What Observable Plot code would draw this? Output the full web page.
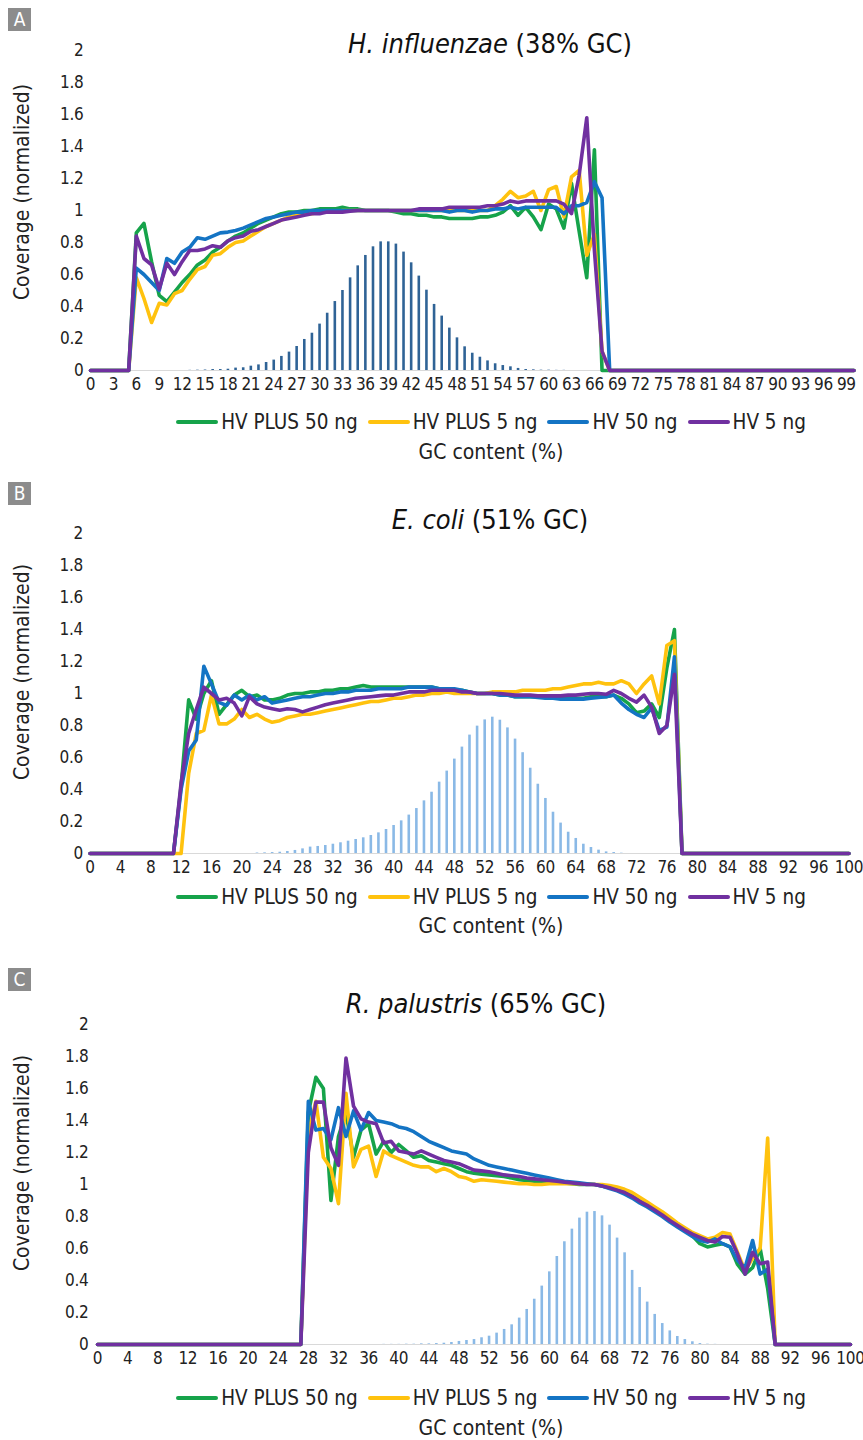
<!DOCTYPE html>
<html>
<head>
<meta charset="utf-8">
<script src="https://cdn.jsdelivr.net/npm/d3@7"></script>
<script src="https://cdn.jsdelivr.net/npm/@observablehq/plot@0.6"></script>
<style>
  html, body { margin: 0; padding: 0; background: #fff; }
  body { width: 863px; height: 1440px; position: relative; overflow: hidden;
         font-family: "Liberation Sans Narrow", "Arial Narrow", "DejaVu Sans Condensed", "Roboto Condensed", sans-serif; color: #222; }
  .plab { position: absolute; left: 8px; width: 23px; height: 23px; background: #8c8c8c; color: #fff;
          font-size: 19px; line-height: 23px; text-align: center; }
  .title { position: absolute; left: 0; font-size: 27px; line-height: 32px; white-space: nowrap; color: #111; }
  .ylab { position: absolute; left: 22px; transform: translate(-50%, -50%) rotate(-90deg); font-size: 21px; white-space: nowrap; color: #222; }
  .legend { position: absolute; left: 0; width: 982px; height: 26px; display: flex; justify-content: center; align-items: center; font-size: 20.5px; color: #222; }
  .legend .item { display: flex; align-items: center; margin: 0 5px; }
  .legend .sw { width: 42px; height: 4.5px; border-radius: 2px; margin-right: 3px; }
  .xlab { position: absolute; left: 0; width: 982px; text-align: center; font-size: 21px; line-height: 26px; color: #222; }
  svg { position: absolute; left: 0; }
</style>
</head>
<body>
<script>
// ---------------- data ----------------
const seriesNames = ["HV PLUS 50 ng", "HV PLUS 5 ng", "HV 50 ng", "HV 5 ng"];
const seriesColors = ["#16a34a", "#ffc20e", "#1474c4", "#7030a0"];
const yTickValues = [0, 0.2, 0.4, 0.6, 0.8, 1, 1.2, 1.4, 1.6, 1.8, 2];
const xTicksA = [0,3,6,9,12,15,18,21,24,27,30,33,36,39,42,45,48,51,54,57,60,63,66,69,72,75,78,81,84,87,90,93,96,99];
const xTicksBC = [0,4,8,12,16,20,24,28,32,36,40,44,48,52,56,60,64,68,72,76,80,84,88,92,96,100];
const titles = [
  {italic: "H. influenzae", rest: " (38% GC)"},
  {italic: "E. coli", rest: " (51% GC)"},
  {italic: "R. palustris", rest: " (65% GC)"}
];
const panelLetters = ["A", "B", "C"];
const xTitle = "GC content (%)";
const yTitle = "Coverage (normalized)";

// Panel A: H. influenzae, coverage by GC 0..100
const aGreen = [0,0,0,0,0,0,0.86,0.92,0.68,0.47,0.43,0.49,0.55,0.6,0.66,0.69,0.74,0.77,0.81,0.84,
  0.86,0.89,0.92,0.94,0.96,0.98,0.99,0.99,1.0,1.0,1.01,1.01,1.01,1.02,1.01,1.01,1.0,1.0,1.0,1.0,
  0.99,0.98,0.98,0.97,0.97,0.96,0.96,0.95,0.95,0.95,0.95,0.96,0.96,0.97,0.99,1.03,0.97,1.02,0.96,0.88,
  1.04,1.01,0.89,1.17,0.87,0.58,1.38,0,0,0,0,0,0,0,0,0,0,0,0,0,
  0,0,0,0,0,0,0,0,0,0,0,0,0,0,0,0,0,0,0,0,0];
const aYellow = [0,0,0,0,0,0,0.58,0.45,0.30,0.42,0.41,0.48,0.5,0.57,0.63,0.65,0.72,0.73,0.77,0.8,
  0.81,0.84,0.87,0.9,0.92,0.94,0.96,0.97,0.98,0.98,0.99,0.99,0.99,1.0,1.0,1.0,1.0,1.0,1.0,1.0,
  1.0,1.0,1.0,1.0,1.0,1.0,1.0,1.0,1.0,1.0,1.0,1.0,1.0,1.03,1.07,1.12,1.08,1.09,1.12,1.0,
  1.13,1.15,0.96,1.21,1.25,0.72,0.85,0.12,0,0,0,0,0,0,0,0,0,0,0,0,
  0,0,0,0,0,0,0,0,0,0,0,0,0,0,0,0,0,0,0,0,0];
const aBlue = [0,0,0,0,0,0,0.64,0.6,0.55,0.5,0.7,0.67,0.74,0.77,0.83,0.82,0.84,0.86,0.865,0.875,
  0.89,0.91,0.93,0.95,0.96,0.97,0.98,0.99,0.99,1.0,1.0,1.0,1.0,1.0,1.0,1.0,1.0,1.0,1.0,1.0,
  1.0,1.0,1.0,1.0,1.0,1.0,1.0,0.99,1.0,1.0,0.99,1.0,1.0,1.01,1.01,1.02,1.01,1.02,1.02,1.02,
  1.02,1.02,0.98,1.03,1.03,1.05,1.18,1.08,0,0,0,0,0,0,0,0,0,0,0,0,
  0,0,0,0,0,0,0,0,0,0,0,0,0,0,0,0,0,0,0,0,0];
const aPurple = [0,0,0,0,0,0,0.84,0.70,0.66,0.51,0.67,0.6,0.68,0.75,0.75,0.76,0.78,0.77,0.81,0.83,
  0.84,0.87,0.88,0.9,0.92,0.94,0.95,0.96,0.97,0.98,0.98,0.99,0.99,0.99,0.995,1.0,1.0,1.0,1.0,1.0,
  1.0,1.0,1.0,1.01,1.01,1.01,1.01,1.02,1.02,1.02,1.02,1.02,1.03,1.03,1.04,1.06,1.05,1.06,1.06,1.06,
  1.06,1.06,1.04,0.98,1.22,1.58,0.75,0.12,0,0,0,0,0,0,0,0,0,0,0,0,
  0,0,0,0,0,0,0,0,0,0,0,0,0,0,0,0,0,0,0,0,0];
const aBars = [0,0,0,0,0,0,0,0,0,0,0,0,0,0.001,0.002,0.003,0.006,0.006,0.008,0.015,
  0.017,0.027,0.035,0.05,0.065,0.088,0.115,0.15,0.194,0.233,0.29,0.358,0.431,0.5,0.579,0.654,0.719,0.773,0.804,0.804,
  0.79,0.74,0.673,0.59,0.502,0.413,0.34,0.265,0.204,0.148,0.108,0.083,0.06,0.042,0.031,0.023,0.013,0.006,0.004,0.002,
  0.002,0.001,0.001,0,0,0,0,0,0,0,0,0,0,0,0,0,0,0,0,0,
  0,0,0,0,0,0,0,0,0,0,0,0,0,0,0,0,0,0,0,0,0];

// Panel B: E. coli
const bGreen = [0,0,0,0,0,0,0,0,0,0,0,0,0.42,0.96,0.84,1.0,1.08,0.87,0.93,0.99,
  1.02,0.98,0.99,0.96,0.96,0.97,0.99,1.0,1.0,1.01,1.01,1.02,1.02,1.03,1.03,1.04,1.05,1.04,1.04,1.04,
  1.04,1.04,1.04,1.04,1.04,1.04,1.03,1.03,1.02,1.02,1.01,1.0,1.0,1.0,0.99,0.99,0.98,0.98,0.98,0.98,
  0.975,0.97,0.97,0.97,0.97,0.97,0.98,0.98,0.98,0.99,0.97,0.935,0.88,0.89,0.935,0.85,1.16,1.40,0,0,
  0,0,0,0,0,0,0,0,0,0,0,0,0,0,0,0,0,0,0,0,0];
const bYellow = [0,0,0,0,0,0,0,0,0,0,0,0,0,0.5,0.75,0.77,0.99,0.81,0.81,0.84,
  0.9,0.85,0.87,0.84,0.82,0.83,0.85,0.86,0.87,0.87,0.88,0.89,0.9,0.91,0.92,0.93,0.94,0.95,0.95,0.96,
  0.97,0.97,0.98,0.99,0.99,1.0,1.0,1.01,1.0,1.0,1.0,1.0,1.0,1.01,1.01,1.01,1.01,1.02,1.02,1.02,
  1.02,1.03,1.03,1.04,1.05,1.06,1.06,1.07,1.06,1.06,1.08,1.06,1.0,1.06,1.11,0.935,1.30,1.33,0,0,
  0,0,0,0,0,0,0,0,0,0,0,0,0,0,0,0,0,0,0,0,0];
const bBlue = [0,0,0,0,0,0,0,0,0,0,0,0,0.4,0.64,0.71,1.17,1.06,0.945,0.925,0.99,
  0.96,0.99,0.96,0.98,0.94,0.95,0.96,0.97,0.98,0.98,0.99,1.0,1.0,1.01,1.01,1.02,1.02,1.02,1.03,1.03,
  1.03,1.03,1.04,1.04,1.04,1.04,1.03,1.03,1.03,1.02,1.01,1.0,1.0,1.0,0.99,0.99,0.98,0.98,0.98,0.975,
  0.97,0.97,0.965,0.965,0.965,0.965,0.97,0.975,0.98,0.99,0.94,0.9,0.87,0.85,0.91,0.77,0.79,1.23,0,0,
  0,0,0,0,0,0,0,0,0,0,0,0,0,0,0,0,0,0,0,0,0];
const bPurple = [0,0,0,0,0,0,0,0,0,0,0,0,0.44,0.75,0.9,1.04,1.0,0.96,0.97,0.94,
  0.86,0.98,0.935,0.915,0.905,0.895,0.905,0.9,0.885,0.9,0.915,0.93,0.94,0.95,0.96,0.97,0.975,0.98,0.985,0.99,
  0.99,1.0,1.01,1.01,1.01,1.02,1.02,1.02,1.02,1.01,1.01,1.0,1.0,1.0,1.0,0.995,0.99,0.99,0.99,0.985,
  0.985,0.985,0.985,0.99,0.99,0.995,1.0,1.0,0.995,1.02,1.0,0.97,0.946,0.99,0.915,0.75,0.8,1.12,0,0,
  0,0,0,0,0,0,0,0,0,0,0,0,0,0,0,0,0,0,0,0,0];
const bBars = [0,0,0,0,0,0,0,0,0,0,0,0,0,0,0,0,0,0,0,0,
  0,0,0.003,0.004,0.006,0.008,0.0125,0.019,0.029,0.04,0.044,0.05,0.058,0.067,0.077,0.0875,0.098,0.1125,0.129,0.15,
  0.175,0.204,0.24,0.281,0.329,0.383,0.446,0.515,0.59,0.665,0.74,0.796,0.835,0.852,0.833,0.785,0.715,0.63,0.533,0.433,
  0.344,0.258,0.19,0.133,0.094,0.058,0.0375,0.021,0.01,0.006,0.002,0,0,0,0,0,0,0,0,0,
  0,0,0,0,0,0,0,0,0,0,0,0,0,0,0,0,0,0,0,0,0];

// Panel C: R. palustris
const cGreen = [0,0,0,0,0,0,0,0,0,0,0,0,0,0,0,0,0,0,0,0,
  0,0,0,0,0,0,0,0,1.45,1.67,1.6,0.9,1.3,1.45,1.17,1.34,1.38,1.19,1.27,1.2,
  1.25,1.21,1.17,1.18,1.15,1.14,1.13,1.12,1.1,1.08,1.07,1.065,1.06,1.055,1.05,1.04,1.03,1.025,1.02,1.015,
  1.015,1.01,1.01,1.005,1.0,1.0,1.0,0.99,0.98,0.97,0.955,0.93,0.9,0.875,0.845,0.81,0.78,0.75,0.72,0.68,
  0.63,0.61,0.62,0.63,0.61,0.5,0.44,0.48,0.6,0.35,0,0,0,0,0,0,0,0,0,0,0];
const cYellow = [0,0,0,0,0,0,0,0,0,0,0,0,0,0,0,0,0,0,0,0,
  0,0,0,0,0,0,0,0,1.32,1.52,1.17,1.1,0.88,1.57,1.11,1.22,1.24,1.05,1.21,1.18,
  1.16,1.14,1.12,1.11,1.11,1.08,1.1,1.08,1.05,1.04,1.02,1.03,1.025,1.02,1.015,1.01,1.005,1.005,1.0,1.0,
  1.005,1.005,1.005,1.005,1.005,1.005,1.0,1.0,0.994,0.985,0.97,0.95,0.92,0.89,0.86,0.83,0.795,0.76,0.73,0.7,
  0.68,0.66,0.67,0.7,0.69,0.575,0.46,0.54,0.6,1.29,0,0,0,0,0,0,0,0,0,0,0];
const cBlue = [0,0,0,0,0,0,0,0,0,0,0,0,0,0,0,0,0,0,0,0,
  0,0,0,0,0,0,0,0,1.52,1.34,1.35,1.28,1.48,1.3,1.46,1.34,1.45,1.4,1.39,1.38,
  1.36,1.35,1.33,1.3,1.27,1.25,1.23,1.21,1.2,1.19,1.16,1.14,1.12,1.11,1.1,1.09,1.08,1.07,1.06,1.05,
  1.04,1.03,1.02,1.015,1.01,1.005,1.0,0.99,0.975,0.96,0.94,0.915,0.885,0.86,0.83,0.8,0.765,0.735,0.705,0.675,
  0.65,0.64,0.66,0.63,0.61,0.525,0.48,0.65,0.44,0.47,0,0,0,0,0,0,0,0,0,0,0];
const cPurple = [0,0,0,0,0,0,0,0,0,0,0,0,0,0,0,0,0,0,0,0,
  0,0,0,0,0,0,0,0,1.2,1.515,1.515,1.23,1.12,1.79,1.49,1.41,1.39,1.38,1.26,1.27,
  1.21,1.2,1.19,1.21,1.19,1.17,1.15,1.14,1.13,1.11,1.09,1.085,1.08,1.07,1.06,1.055,1.05,1.04,1.035,1.03,
  1.025,1.02,1.015,1.01,1.005,1.0,1.0,0.99,0.98,0.965,0.95,0.925,0.895,0.87,0.84,0.81,0.775,0.745,0.715,0.69,
  0.67,0.65,0.64,0.675,0.67,0.565,0.44,0.576,0.505,0.515,0,0,0,0,0,0,0,0,0,0,0];
const cBars = [0,0,0,0,0,0,0,0,0,0,0,0,0,0,0,0,0,0,0,0,
  0,0,0,0,0,0,0,0,0,0,0,0,0,0,0,0,0,0,0.001,0.001,
  0.001,0.002,0.002,0.004,0.004,0.006,0.008,0.0125,0.019,0.025,0.031,0.042,0.052,0.071,0.094,0.123,0.165,0.219,0.283,0.365,
  0.454,0.55,0.642,0.721,0.79,0.827,0.831,0.804,0.746,0.665,0.573,0.463,0.356,0.265,0.188,0.131,0.085,0.05,0.031,0.017,
  0.006,0.002,0.001,0,0,0,0,0,0,0,0,0,0,0,0,0,0,0,0,0,0];

// ---------------- layout config (positions/styles only) ----------------
const FONT = '"Liberation Sans Narrow", "Arial Narrow", "DejaVu Sans Condensed", "Roboto Condensed", sans-serif';
const panels = [
  {series: [aGreen, aYellow, aBlue, aPurple], bars: aBars, barColor: "#2f6396", ticks: xTicksA,
   top: 0, ml: 90, mr: 9.5, ypad: 7, labTop: 8, titleY: 44, titleX: 490, legendY: 422, xlabY: 452, ylabY: 192},
  {series: [bGreen, bYellow, bBlue, bPurple], bars: bBars, barColor: "#8ab9e6", ticks: xTicksBC,
   top: 483, ml: 89.5, mr: 14.5, ypad: 7, labTop: 482, titleY: 520, titleX: 490, legendY: 897, xlabY: 926, ylabY: 672},
  {series: [cGreen, cYellow, cBlue, cPurple], bars: cBars, barColor: "#8ab9e6", ticks: xTicksBC,
   top: 974, ml: 97, mr: 13, ypad: 9, labTop: 968, titleY: 1004, titleX: 476, legendY: 1398, xlabY: 1428, ylabY: 1163}
];

function makePanel(cfg, idx) {
  const lineData = [];
  cfg.series.forEach((vals, si) => vals.forEach((v, gc) => lineData.push({gc, v, s: seriesNames[si]})));
  const barData = cfg.bars.map((v, gc) => ({gc, v})).filter(d => d.v > 0);
  const svg = Plot.plot({
    width: 863, height: 400,
    marginTop: 50, marginBottom: 30, marginLeft: cfg.ml, marginRight: cfg.mr,
    style: {fontFamily: FONT, fontSize: "17px", color: "#222", background: "transparent", overflow: "visible", letterSpacing: "-0.3px"},
    x: {domain: [0, 100], ticks: cfg.ticks, tickSize: 0, tickPadding: 7, label: null, tickFormat: d => String(d)},
    y: {domain: [0, 2], ticks: yTickValues, tickSize: 0, tickPadding: cfg.ypad, label: null,
        tickFormat: d => String(Math.round(d * 10) / 10)},
    color: {domain: seriesNames, range: seriesColors},
    marks: [
      Plot.ruleY([0], {stroke: "#d9d9d9", strokeWidth: 1.2}),
      Plot.ruleX(barData, {x: "gc", y1: 0, y2: "v", stroke: cfg.barColor, strokeWidth: 2.6}),
      Plot.line(lineData, {x: "gc", y: "v", z: "s", stroke: "s", strokeWidth: 3.6,
        strokeLinejoin: "round", strokeLinecap: "round"})
    ]
  });
  svg.style.top = cfg.top + "px";
  document.body.appendChild(svg);

  const lab = document.createElement("div");
  lab.className = "plab"; lab.style.top = cfg.labTop + "px"; lab.textContent = panelLetters[idx];
  document.body.appendChild(lab);

  const t = document.createElement("div");
  t.className = "title";
  t.style.top = (cfg.titleY - 16) + "px";
  t.style.width = (cfg.titleX * 2) + "px"; t.style.textAlign = "center";
  const it = document.createElement("i"); it.textContent = titles[idx].italic;
  t.appendChild(it); t.appendChild(document.createTextNode(titles[idx].rest));
  document.body.appendChild(t);

  const yl = document.createElement("div");
  yl.className = "ylab"; yl.style.top = cfg.ylabY + "px"; yl.textContent = yTitle;
  document.body.appendChild(yl);

  const lg = document.createElement("div");
  lg.className = "legend"; lg.style.top = (cfg.legendY - 13) + "px";
  seriesNames.forEach((n, i) => {
    const item = document.createElement("div"); item.className = "item";
    const sw = document.createElement("div"); sw.className = "sw"; sw.style.background = seriesColors[i];
    const tx = document.createElement("span"); tx.textContent = n;
    item.appendChild(sw); item.appendChild(tx); lg.appendChild(item);
  });
  document.body.appendChild(lg);

  const xl = document.createElement("div");
  xl.className = "xlab"; xl.style.top = (cfg.xlabY - 13) + "px"; xl.textContent = xTitle;
  document.body.appendChild(xl);
}
panels.forEach(makePanel);
</script>
</body>
</html>
